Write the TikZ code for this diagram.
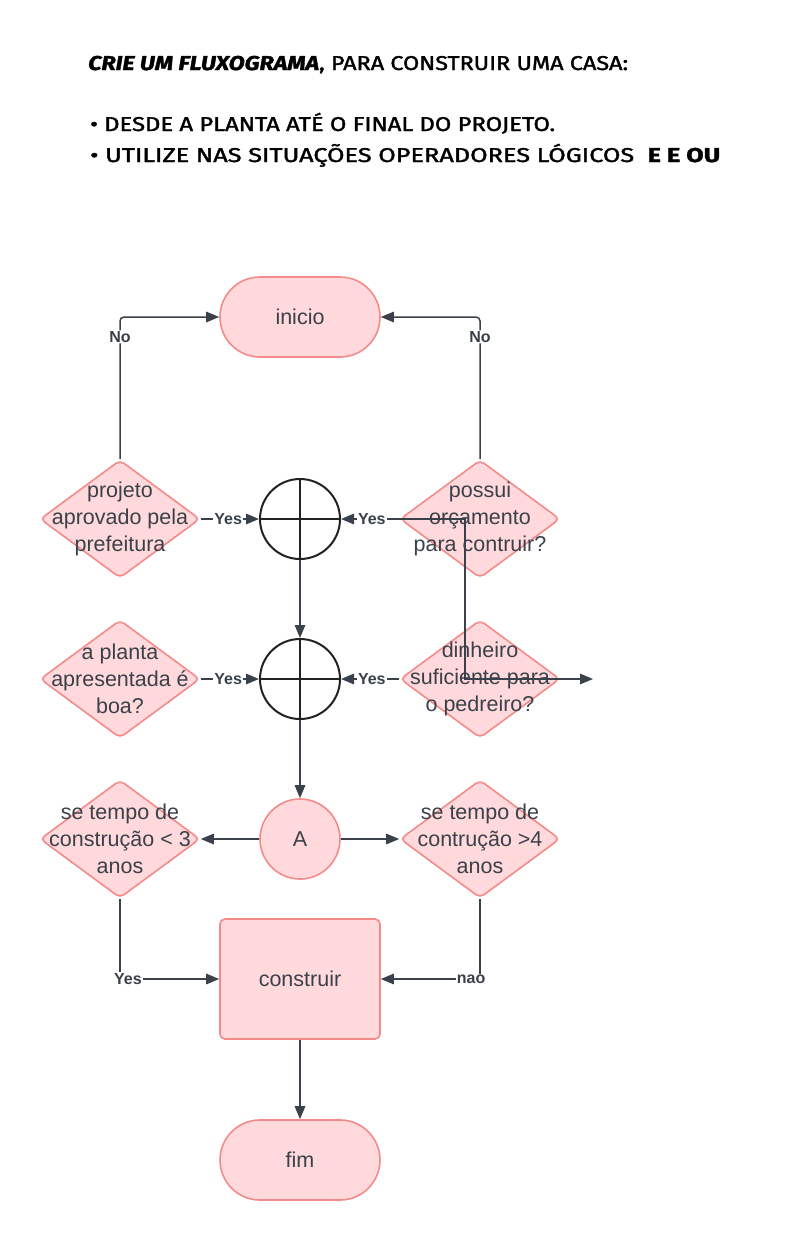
\documentclass[tikz,border=0pt]{standalone}
\usepackage{fontspec}
\usepackage{graphicx}
\setmainfont{Liberation Sans}
\newfontfamily\titlefont{Fira Sans}[FakeBold=1.6]
\usetikzlibrary{shapes.geometric,arrows.meta}
\definecolor{pinkfill}{HTML}{FFD9DB}
\definecolor{pinkline}{HTML}{F58A8A}
\definecolor{ink}{HTML}{3A414A}
\definecolor{ring}{HTML}{222222}
\begin{document}
\begin{tikzpicture}[x=1pt,y=-1pt,
  every node/.style={font=\fontsize{21.5}{27}\selectfont, text=ink},
  dia/.style={diamond, draw=pinkline, fill=pinkfill, line width=1.6pt,
    minimum width=160pt, minimum height=118pt, inner sep=0pt, rounded corners=5pt},
  dtext/.style={align=center, inner sep=0pt},
  term/.style={rectangle, draw=pinkline, fill=pinkfill, line width=1.6pt,
    minimum width=160pt, minimum height=80pt, rounded corners=39.9pt},
  procbox/.style={rectangle, draw=pinkline, fill=pinkfill, line width=1.6pt,
    minimum width=160pt, minimum height=120pt, rounded corners=5pt},
  orc/.style={circle, draw=ring, fill=white, line width=2pt, minimum size=80pt, inner sep=0pt},
  conn/.style={circle, draw=pinkline, fill=pinkfill, line width=1.6pt, minimum size=80pt, inner sep=0pt},
  arr/.style={draw=ink, line width=1.5pt, -{Triangle[length=13pt,width=10.5pt]}},
  lbl/.style={font=\bfseries\fontsize{16}{19}\selectfont, fill=white, inner sep=1pt, text=ink},
  ttl/.style={anchor=base west, inner sep=0pt, text=black, font=\titlefont\fontsize{20}{24}\selectfont}
]
\useasboundingbox (0,0) rectangle (797,1240);

% title
\node[ttl] (t1) at (88,70) {\resizebox{540pt}{\height}{\textbf{\textit{CRIE UM FLUXOGRAMA}}, PARA CONSTRUIR UMA CASA:}};
\node[ttl] (t2) at (90,131) {\resizebox{465pt}{\height}{• DESDE A PLANTA ATÉ O FINAL DO PROJETO.}};
\node[ttl] (t3) at (90,162) {\resizebox{630pt}{\height}{• UTILIZE NAS SITUAÇÕES OPERADORES LÓGICOS\ \ \textbf{E E OU}}};

% nodes
\node[term] (ini) at (300,317) {inicio};
\node[dia] (d1) at (120,519) {};
\node[dtext] (d1t) at (d1) {projeto\\aprovado pela\\prefeitura};
\node[dia] (d2) at (480,519) {};
\node[dtext] (d2t) at (d2) {possui\\orçamento\\para contruir?};
\node[orc] (c1) at (300,519) {};
\node[dia] (d3) at (120,679) {};
\node[dtext] (d3t) at (d3) {a planta\\apresentada é\\boa?};
\node[dia] (d4) at (480,679) {};
\node[dtext] (d4t) at (d4) {dinheiro\\suficiente para\\o pedreiro?};
\node[orc] (c2) at (300,679) {};
\node[conn] (ca) at (300,839) {A};
\node[dia] (d5) at (120,839) {};
\node[dtext] (d5t) at (d5) {se tempo de\\construção < 3\\anos};
\node[dia] (d6) at (480,839) {};
\node[dtext] (d6t) at (d6) {se tempo de\\contrução >4\\anos};
\node[procbox] (con) at (300,979) {construir};
\node[term] (fim) at (300,1160) {fim};

% crosses in OR circles
\draw[ring, line width=2pt] (c1.north) -- (c1.south) (c1.west) -- (c1.east);
\draw[ring, line width=2pt] (c2.north) -- (c2.south) (c2.west) -- (c2.east);

% connectors
\draw[arr, rounded corners=4pt] (d1.north) |- node[lbl, pos=0.43] {No} (ini.west);
\draw[arr, rounded corners=4pt] (d2.north) |- node[lbl, pos=0.43] {No} (ini.east);
\draw[arr] (d1.east) -- node[lbl, pos=0.47] {Yes} (c1.west);
\draw[arr] (d2.west) -- node[lbl, pos=0.47] {Yes} (c1.east);
\draw[arr] (d3.east) -- node[lbl, pos=0.47] {Yes} (c2.west);
\draw[arr] (d4.west) -- node[lbl, pos=0.47] {Yes} (c2.east);
\coordinate (loose) at (593,679);
\draw[arr] (d2.west) -- ++(66,0) |- (loose);
\draw[arr] (c1.south) -- (c2.north);
\draw[arr] (c2.south) -- (ca.north);
\draw[arr] (ca.west) -- (d5.east);
\draw[arr] (ca.east) -- (d6.west);
\draw[arr] (d5.south) |- node[lbl, pos=0.54] {Yes} (con.west);
\draw[arr] (d6.south) |- node[lbl, pos=0.545] {nao} (con.east);
\draw[arr] (con.south) -- (fim.north);
\end{tikzpicture}
\end{document}
